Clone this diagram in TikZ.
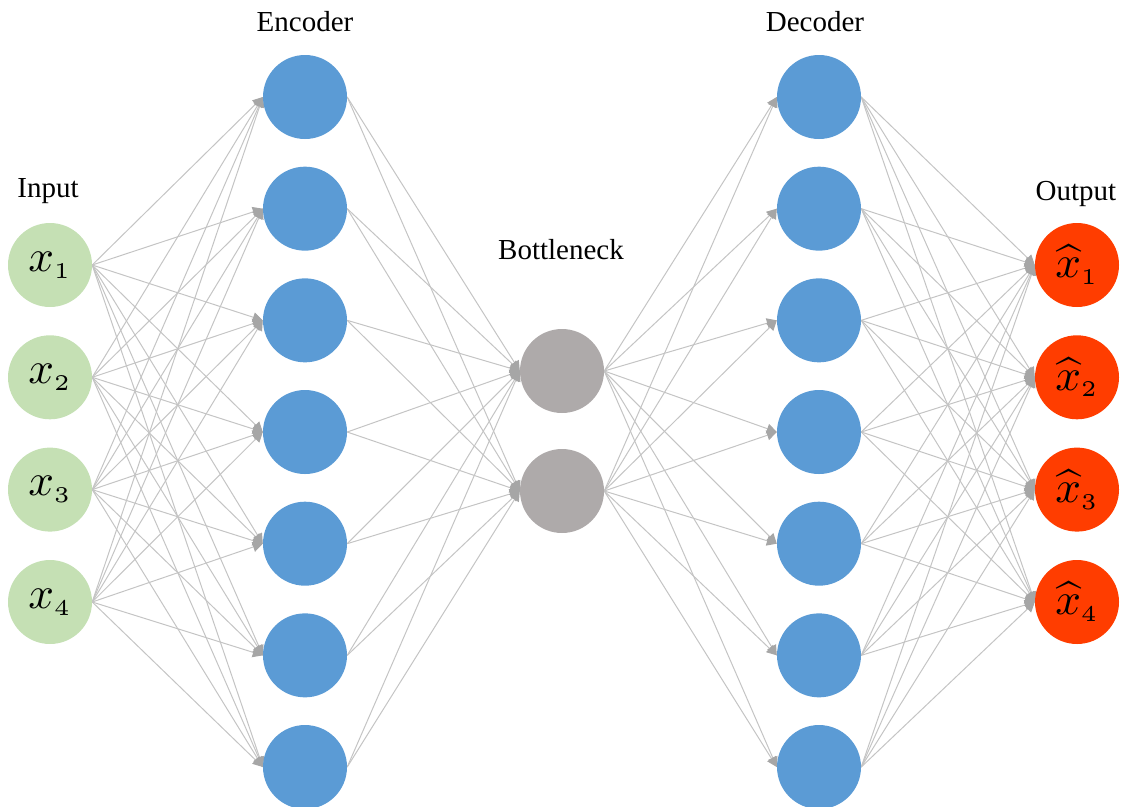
\documentclass[tikz,border=0pt]{standalone}
\usepackage{fontspec}
\setmainfont{Liberation Serif}
\usetikzlibrary{arrows.meta,backgrounds}
\definecolor{inGreen}{HTML}{C5E0B4}
\definecolor{hidBlue}{HTML}{5B9BD5}
\definecolor{codeGray}{HTML}{AEAAAA}
\definecolor{outRed}{HTML}{FF3D00}
\definecolor{lineGray}{HTML}{C4C4C4}
\definecolor{tipGray}{HTML}{A6A6A6}
\newcommand{\neuronlbl}[1]{\scalebox{4.5}{$#1$}}
\begin{document}
\begin{tikzpicture}[x=1pt,y=-1pt,
  neuron/.style={circle, minimum size=84pt, inner sep=0pt},
  inN/.style={neuron, fill=inGreen},
  hidN/.style={neuron, fill=hidBlue},
  codeN/.style={neuron, fill=codeGray},
  outN/.style={neuron, fill=outRed},
  link/.style={draw=lineGray, line width=1pt,
    -{Triangle[length=10pt,width=10pt,color=tipGray]}},
  title/.style={font=\fontsize{29}{32}\selectfont, anchor=base}]
\useasboundingbox (0,0) rectangle (1131,806);

% layer titles
\node[title] (tIn)  at (48,197)  {Input};
\node[title] (tEnc) at (305,31)  {Encoder};
\node[title] (tBot) at (561,259) {Bottleneck};
\node[title] (tDec) at (815,31)  {Decoder};
\node[title] (tOut) at (1076,200) {Output};

% input and output layers
\foreach \i/\y in {1/265,2/377.3,3/489.6,4/602}{
  \node[inN]  (in\i)  at (50,\y)
    {\neuronlbl{x_{\scriptscriptstyle\i}}};
  \node[outN] (out\i) at (1077,\y)
    {\neuronlbl{\widehat{x}_{\scriptscriptstyle\i}}};
}
% encoder and decoder layers
\foreach \j in {1,...,7}{
  \pgfmathsetmacro{\yy}{97+111.67*(\j-1)}
  \node[hidN] (en\j) at (305,\yy) {};
  \node[hidN] (de\j) at (819,\yy) {};
}
% bottleneck
\node[codeN] (bn1) at (562,371) {};
\node[codeN] (bn2) at (562,491) {};

% connections
\begin{pgfonlayer}{background}
\foreach \i in {1,...,4}
  \foreach \j in {1,...,7}{
    \draw[link] (in\i.east) -- (en\j.west);
    \draw[link] (de\j.east) -- (out\i.west);
  }
\foreach \j in {1,...,7}
  \foreach \k in {1,2}{
    \draw[link] (en\j.east) -- (bn\k.west);
    \draw[link] (bn\k.east) -- (de\j.west);
  }
\end{pgfonlayer}
\end{tikzpicture}
\end{document}
